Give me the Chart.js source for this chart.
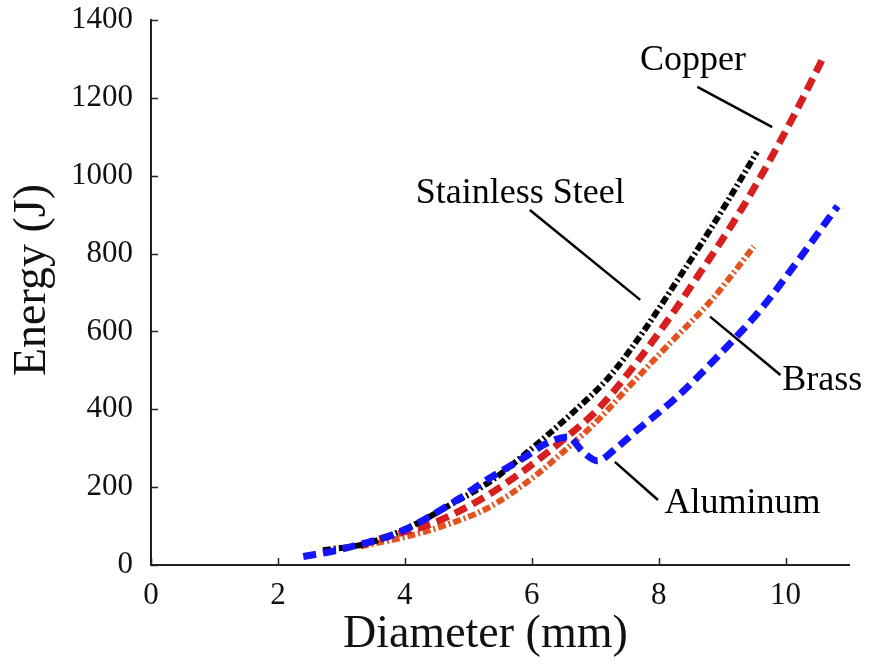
<!DOCTYPE html>
<html>
<head>
<meta charset="utf-8">
<script src="https://cdn.jsdelivr.net/npm/chart.js@4.4.0/dist/chart.umd.min.js"></script>
<style>
html,body{margin:0;padding:0;background:#fff;}
#wrap{width:869px;height:665px;position:relative;}
</style>
</head>
<body>
<div id="wrap"><canvas id="c" width="869" height="665"></canvas></div>
<script>
// ---- data ----
const xTickValues = [0, 2, 4, 6, 8, 10];
const yTickValues = [0, 200, 400, 600, 800, 1000, 1200, 1400];

const xTitle = "Diameter (mm)";
const yTitle = "Energy (J)";
const seriesNames = ["Stainless Steel", "Copper", "Brass", "Aluminum"];

const steelD = [2.71, 3.4, 4.08, 4.71, 5.34, 5.71, 6.65, 7.23, 7.76, 8.29, 8.76, 9.13, 9.55];
const steelE = [38, 55, 98, 154, 214, 260, 392, 485, 600, 730, 848, 946, 1061];

const copperD = [3.3, 3.56, 4.45, 5.18, 5.82, 6.55, 7.03, 7.6, 8.18, 8.65, 9.13, 9.55, 10.12, 10.62];
const copperE = [50, 65, 108, 167, 236, 329, 398, 509, 637, 750, 868, 981, 1151, 1312];

const brassD = [3.3, 4.0, 4.56, 5.29, 6.0, 6.65, 6.97, 7.6, 8.18, 8.81, 9.13, 9.5];
const brassE = [48, 72, 98, 145, 222, 313, 360, 470, 570, 676, 740, 818];

const aluminumD = [2.4, 2.82, 3.13, 3.82, 4.19, 4.5, 4.87, 5.19, 5.86, 6.24, 6.57, 6.81, 7.03, 7.35, 7.6, 8.29, 8.92, 9.6, 10.12, 10.82];
const aluminumE = [22, 34, 46, 78, 106, 135, 172, 208, 274, 313, 329, 290, 268, 303, 338, 432, 534, 655, 765, 922];

// annotation labels with leader lines (data coordinates)
const noteTexts = ["Copper", "Stainless Steel", "Brass", "Aluminum"];
const notePos = [[8.54, 1297], [5.82, 955], [10.58, 473], [9.32, 159]];
const noteLines = [
  [[8.61, 1228], [9.79, 1125]],
  [[5.97, 912], [7.71, 681]],
  [[8.81, 638], [9.92, 488]],
  [[7.31, 265], [7.99, 167]]
];

function pts(xs, ys) { return xs.map((x, i) => ({ x: x, y: ys[i] })); }

const FONT = "'Liberation Serif', 'Times New Roman', serif";

const inwardTicks = {
  id: 'inwardTicks',
  afterDraw(chart) {
    const ctx = chart.ctx, xs = chart.scales.x, ys = chart.scales.y;
    const a = chart.chartArea;
    ctx.save();
    ctx.strokeStyle = '#222';
    ctx.lineWidth = 1.5;
    ctx.beginPath();
    xTickValues.forEach(v => {
      const p = Math.round(xs.getPixelForValue(v)) + 0.5;
      ctx.moveTo(p, a.bottom); ctx.lineTo(p, a.bottom - 7);
    });
    yTickValues.forEach(v => {
      const p = Math.round(ys.getPixelForValue(v)) + 0.5;
      ctx.moveTo(a.left, p); ctx.lineTo(a.left + 7, p);
    });
    ctx.stroke();
    // axis titles
    ctx.fillStyle = '#111';
    ctx.font = "46px " + FONT;
    ctx.textAlign = 'center';
    ctx.textBaseline = 'middle';
    ctx.fillText(xTitle, a.left + (a.right - a.left) * 0.479, a.bottom + 70);
    ctx.translate(a.left - 118, a.top + (a.bottom - a.top) * 0.477);
    ctx.rotate(-Math.PI / 2);
    ctx.fillText(yTitle, 0, 0);
    ctx.restore();
  }
};

const notes = {
  id: 'notes',
  afterDraw(chart) {
    const ctx = chart.ctx, xs = chart.scales.x, ys = chart.scales.y;
    ctx.save();
    ctx.strokeStyle = '#000';
    ctx.lineWidth = 2.5;
    noteLines.forEach(l => {
      ctx.beginPath();
      ctx.moveTo(xs.getPixelForValue(l[0][0]), ys.getPixelForValue(l[0][1]));
      ctx.lineTo(xs.getPixelForValue(l[1][0]), ys.getPixelForValue(l[1][1]));
      ctx.stroke();
    });
    ctx.fillStyle = '#000';
    ctx.font = "36px " + FONT;
    ctx.textAlign = 'center';
    ctx.textBaseline = 'middle';
    noteTexts.forEach((t, i) => {
      ctx.fillText(t, xs.getPixelForValue(notePos[i][0]), ys.getPixelForValue(notePos[i][1]));
    });
    ctx.restore();
  }
};

const common = { pointRadius: 0, fill: false, cubicInterpolationMode: 'monotone', borderCapStyle: 'butt', clip: false };

new Chart(document.getElementById('c'), {
  type: 'line',
  data: {
    datasets: [
      Object.assign({ label: seriesNames[3], data: pts(aluminumD, aluminumE), borderColor: '#1414ff', borderWidth: 7, borderDash: [13, 7] }, common),
      Object.assign({ label: seriesNames[0], data: pts(steelD, steelE), borderColor: '#000000', borderWidth: 6, borderDash: [8, 3, 2, 3] }, common),
      Object.assign({ label: seriesNames[1], data: pts(copperD, copperE), borderColor: '#d81f1f', borderWidth: 7, borderDash: [13, 7] }, common),
      Object.assign({ label: seriesNames[2], data: pts(brassD, brassE), borderColor: '#e2531f', borderWidth: 6, borderDash: [8, 3, 2, 3] }, common)
    ]
  },
  options: {
    responsive: false,
    devicePixelRatio: 1,
    animation: false,
    layout: { padding: { left: 0, right: 20, top: 20, bottom: 0 } },
    plugins: { legend: { display: false }, tooltip: { enabled: false } },
    scales: {
      x: {
        type: 'linear', min: 0, max: 11,
        afterBuildTicks: s => { s.ticks = xTickValues.map(v => ({ value: v })); },
        afterFit: s => { s.height = 100; s.paddingLeft = 0; s.paddingRight = 0; },
        grid: { display: false },
        border: { display: true, color: '#222', width: 2 },
        ticks: { color: '#111', font: { family: FONT, size: 31 }, padding: 4, maxRotation: 0, callback: v => String(v) },
        title: { display: false }
      },
      y: {
        type: 'linear', min: 0, max: 1400,
        afterBuildTicks: s => { s.ticks = yTickValues.map(v => ({ value: v })); },
        afterFit: s => { s.width = 151; s.paddingTop = 0; s.paddingBottom = 0; },
        grid: { display: false },
        border: { display: true, color: '#222', width: 2 },
        ticks: { color: '#111', font: { family: FONT, size: 31 }, padding: 10, callback: v => String(v) },
        title: { display: false }
      }
    }
  },
  plugins: [inwardTicks, notes]
});
</script>
</body>
</html>
